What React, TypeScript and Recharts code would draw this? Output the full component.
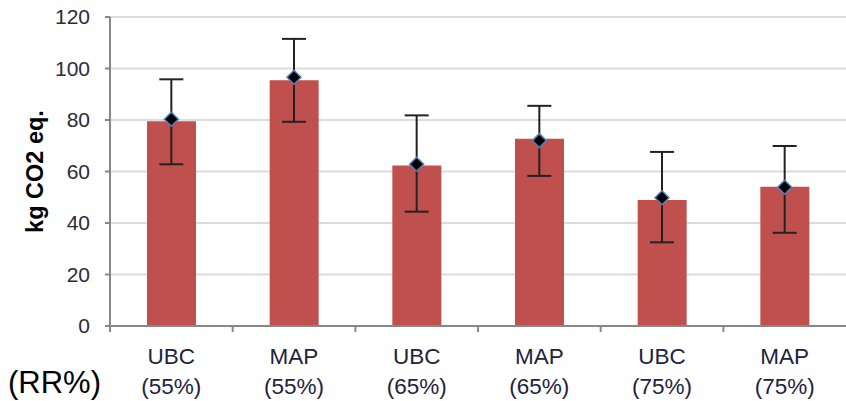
import React from 'react';
import { ComposedChart, Bar, Line, ErrorBar, XAxis, YAxis, CartesianGrid } from 'recharts';

const groups = ['UBC', 'MAP', 'UBC', 'MAP', 'UBC', 'MAP'];
const rates = ['(55%)', '(55%)', '(65%)', '(65%)', '(75%)', '(75%)'];
const barValues = [79.5, 95.4, 62.3, 72.7, 48.9, 54.1];
const meanValues = [80.3, 96.6, 62.8, 72, 49.8, 53.9];
const lowValues = [62.8, 79.3, 44.4, 58.3, 32.5, 36.2];
const highValues = [95.8, 111.5, 81.8, 85.5, 67.6, 69.9];
const yTicks = [0, 20, 40, 60, 80, 100, 120];

const data = groups.map((g, i) => ({
    key: `${g} ${rates[i]}`,
    group: g,
    rate: rates[i],
    bar: barValues[i],
    mean: meanValues[i],
    err: [meanValues[i] - lowValues[i], highValues[i] - meanValues[i]],
}));

const HALF_BAND = 61.3;

const XTick = (props: any) => {
    const { x, y, payload, index } = props;
    const d = data[index] ?? data.find((r) => r.key === payload.value);
    return (
        <g>
            <line x1={x - HALF_BAND} x2={x - HALF_BAND} y1={y - 8} y2={y - 2} stroke="#888" strokeWidth={2} />
            <text x={x} y={y} textAnchor="middle" fontFamily="Liberation Sans, Arial" fontSize={22.5} fill="#22223c">
                <tspan x={x} dy={30}>{d?.group}</tspan>
                <tspan x={x} dy={30}>{d?.rate}</tspan>
            </text>
        </g>
    );
};

const Diamond = (props: any) => {
    const { cx, cy } = props;
    if (cx == null || cy == null) return null;
    const r = 7;
    return (
        <path
            d={`M${cx},${cy - r} L${cx + r},${cy} L${cx},${cy + r} L${cx - r},${cy} Z`}
            fill="#000"
            stroke="#4f81bd"
            strokeWidth={1.5}
        />
    );
};

const YLabel = (props: any) => {
    const { viewBox } = props;
    const cy = viewBox.y + viewBox.height / 2;
    return (
        <text
            x={35}
            y={cy}
            transform={`rotate(-90, 35, ${cy})`}
            textAnchor="middle"
            dominantBaseline="central"
            fontFamily="Liberation Sans, Arial"
            fontWeight="bold"
            fontSize={23.5}
            fill="#000"
        >
            kg CO2 eq.
        </text>
    );
};

export default function App() {
    return (
        <div style={{ position: 'absolute', left: 0, top: 0, width: 846, height: 401, background: '#fff' }}>
            <ComposedChart
                width={846}
                height={401}
                data={data}
                margin={{ top: 17, right: 0, left: 0, bottom: 0 }}
                barCategoryGap={0}
            >
                <CartesianGrid vertical={false} stroke="#dcdcdc" strokeWidth={2} />
                <XAxis
                    dataKey="key"
                    interval={0}
                    tickLine={false}
                    axisLine={{ stroke: '#888', strokeWidth: 2 }}
                    tick={<XTick />}
                    height={75}
                />
                <YAxis
                    domain={[0, 120]}
                    ticks={yTicks}
                    width={110}
                    tickSize={5}
                    tickMargin={15}
                    tickLine={{ stroke: '#888', strokeWidth: 2 }}
                    axisLine={{ stroke: '#888', strokeWidth: 2 }}
                    tick={{ fontFamily: 'Liberation Sans, Arial', fontSize: 21, fill: '#2a2a3a' }}
                    label={<YLabel />}
                />
                <Bar dataKey="bar" fill="#c0504d" barSize={49} isAnimationActive={false} />
                <Line
                    dataKey="mean"
                    stroke="none"
                    dot={<Diamond />}
                    activeDot={false}
                    isAnimationActive={false}
                >
                    <ErrorBar dataKey="err" width={12} stroke="#222" strokeWidth={2} direction="y" />
                </Line>
            </ComposedChart>
            <span
                style={{
                    position: 'absolute',
                    left: 8,
                    top: 365,
                    fontFamily: 'Liberation Sans, Arial',
                    fontSize: 31,
                    lineHeight: '36px',
                    color: '#000',
                }}
            >
                (RR%)
            </span>
        </div>
    );
}
